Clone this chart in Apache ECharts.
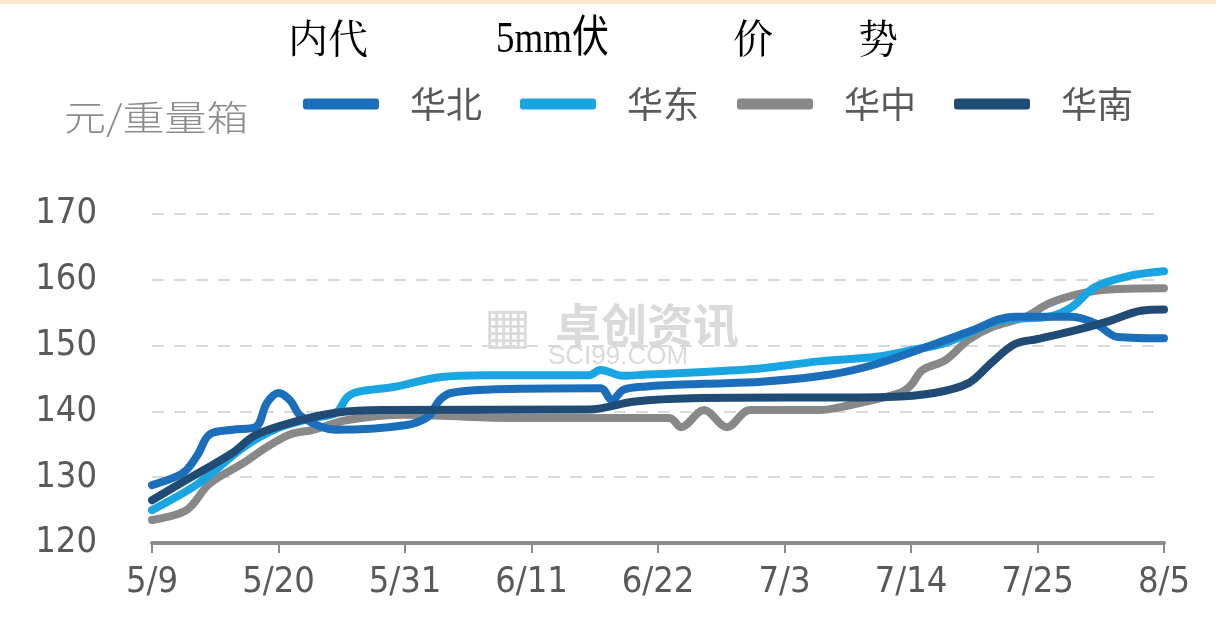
<!DOCTYPE html>
<html>
<head>
<meta charset="utf-8">
<script src="https://cdn.jsdelivr.net/npm/echarts@6/dist/echarts.min.js"></script>
<style>html,body{margin:0;padding:0;background:#fff}#c{width:1216px;height:620px}</style>
</head>
<body>
<div id="c"></div>
<script>
// ---- data ----
const seriesNames = ['华北', '华东', '华中', '华南'];
const xTickLabels = ['5/9', '5/20', '5/31', '6/11', '6/22', '7/3', '7/14', '7/25', '8/5'];
const yTicks = [120, 130, 140, 150, 160, 170];

// day offsets from 5/9 and values (元/重量箱)
const northDays = [0, 2, 3, 4, 5, 7, 9, 10, 11, 12, 13, 16, 22, 24, 25, 26, 29, 39, 40, 41, 43, 48, 53, 59, 63, 68, 71, 75, 80, 82, 84, 88];
const northVals = [128.8, 130, 131.1, 133.5, 136.5, 137.2, 137.6, 141.3, 142.8, 141.7, 139.2, 137.2, 137.9, 139.2, 141.7, 142.8, 143.3, 143.5, 141.7, 143.3, 143.8, 144.2, 144.5, 145.6, 147.2, 150.2, 152.1, 154.4, 154.4, 153.4, 151.3, 151.1];

const eastDays = [0, 4, 8, 11, 14, 16, 17, 18, 21, 25, 29, 38, 39, 41, 43, 52, 58, 63, 66, 69, 74, 78, 80, 82, 85, 88];
const eastVals = [125, 129, 134.6, 137.5, 139, 139.8, 142.2, 143, 143.7, 145.2, 145.5, 145.5, 146.3, 145.4, 145.6, 146.4, 147.6, 148.3, 149.3, 150.4, 153.9, 154.4, 155.9, 158.9, 160.6, 161.3];

const centralDays = [0, 3, 5, 8, 10, 12, 14, 17, 22, 31, 45, 46, 48, 50, 52, 58, 60, 65, 66, 67, 69, 71, 73, 76, 78, 81, 84, 88];
const centralVals = [123.5, 125, 129, 132.2, 134.6, 136.5, 137.2, 138.7, 139.5, 139, 139, 137.6, 140.2, 137.6, 140.2, 140.2, 140.7, 142.8, 144, 146.3, 147.8, 150.9, 152.8, 154.4, 156.4, 158, 158.6, 158.7];

const southDays = [0, 3, 7, 9, 13, 16, 20, 38, 42, 47, 64, 68, 71, 73, 75, 77, 80, 83, 86, 88];
const southVals = [126.5, 129.6, 133.7, 136.4, 138.7, 139.8, 140.2, 140.3, 141.5, 142, 142.2, 142.8, 144.3, 147.4, 150.2, 151, 152.2, 153.6, 155.3, 155.5];

// ---- build category axis of all dates ----
const dates = [];
const start = new Date(2022, 4, 9);
for (let i = 0; i <= 88; i++) {
  const d = new Date(start.getTime() + i * 86400000);
  dates.push((d.getMonth() + 1) + '/' + d.getDate());
}
const pairs = (days, vals) => days.map((d, i) => [dates[d], vals[i]]);

const colors = ['#1B6EBA', '#19A5E1', '#888888', '#1F4B75'];
const zs = [3, 2, 1, 4];
const dataSets = [pairs(northDays, northVals), pairs(eastDays, eastVals), pairs(centralDays, centralVals), pairs(southDays, southVals)];

const chart = echarts.init(document.getElementById('c'), null, {renderer: 'canvas'});
const labelFont = '"Liberation Sans Narrow","DejaVu Sans Condensed","Liberation Sans",sans-serif';
chart.setOption({
  backgroundColor: '#ffffff',
  animation: false,
  color: colors,
  grid: {left: 152, right: 52, top: 214, bottom: 77},
  legend: {
    data: seriesNames,
    left: 298, top: 81,
    itemWidth: 76, itemHeight: 11,
    itemGap: 38,
    icon: 'roundRect',
    textStyle: {fontSize: 36, color: '#595959', fontFamily: '"Noto Sans CJK SC",sans-serif', padding: [0, 0, 0, 26]}
  },
  graphic: [
    {type: 'rect', shape: {x: 0, y: 0, width: 1216, height: 4}, style: {fill: '#FCE6CC'}},
    {type: 'text', left: 288, top: 18, style: {text: '内代', fontSize: 40, fill: '#000', fontFamily: '"Noto Serif CJK SC","Noto Sans CJK SC",serif'}},
    {type: 'text', x: 496, y: 18, scaleX: 0.88, scaleY: 1.05, style: {text: '5mm伏', fontSize: 42, fill: '#000', fontFamily: '"Liberation Serif","Noto Sans CJK SC",serif'}},
    {type: 'text', left: 733, top: 18, style: {text: '价', fontSize: 40, fill: '#000', fontFamily: '"Noto Serif CJK SC","Noto Sans CJK SC",serif'}},
    {type: 'text', left: 858, top: 18, style: {text: '势', fontSize: 40, fill: '#000', fontFamily: '"Noto Serif CJK SC","Noto Sans CJK SC",serif'}},
    {type: 'text', x: 64, y: 100, scaleX: 1.2, style: {text: '元/重量箱', fontSize: 35, fill: '#8c8c8c', fontFamily: '"Noto Sans CJK SC",sans-serif', fontWeight: 300}},
    {type: 'text', left: 484, top: 305, z: 0, style: {text: '▦', fontSize: 50, fill: 'rgba(150,150,150,0.35)', fontFamily: '"DejaVu Sans",sans-serif'}},
    {type: 'text', left: 555, top: 302, z: 0, style: {text: '卓创资讯', fontSize: 46, fill: 'rgba(150,150,150,0.35)', fontFamily: '"Noto Sans CJK SC",sans-serif', fontWeight: 'bold'}},
    {type: 'text', left: 548, top: 344, z: 0, style: {text: 'SCI99.COM', fontSize: 26, fill: 'rgba(150,150,150,0.35)', fontFamily: '"Liberation Sans",sans-serif'}}
  ],
  xAxis: {
    type: 'category',
    data: dates,
    boundaryGap: false,
    axisLine: {lineStyle: {color: '#8c8c8c', width: 4}},
    axisTick: {show: true, interval: 10, length: 10, lineStyle: {color: '#8c8c8c', width: 2}},
    axisLabel: {
      interval: 10, margin: 22, fontSize: 36, color: '#595959', fontFamily: labelFont,
      formatter: (v, i) => xTickLabels[Math.round(i / 11)] || v
    },
    splitLine: {show: false}
  },
  yAxis: {
    type: 'value',
    min: yTicks[0], max: yTicks[yTicks.length - 1], interval: 10,
    axisLine: {show: false},
    axisTick: {show: false},
    axisLabel: {fontSize: 36, color: '#595959', margin: 55, fontFamily: labelFont},
    splitLine: {lineStyle: {color: '#d9d9d9', width: 2, type: [12, 10]}}
  },
  series: seriesNames.map((n, i) => ({
    name: n,
    type: 'line',
    data: dataSets[i],
    smooth: 0.35,
    showSymbol: false,
    symbol: 'none',
    z: zs[i],
    lineStyle: {width: 8, color: colors[i], cap: 'round', join: 'round'}
  }))
});
</script>
</body>
</html>
